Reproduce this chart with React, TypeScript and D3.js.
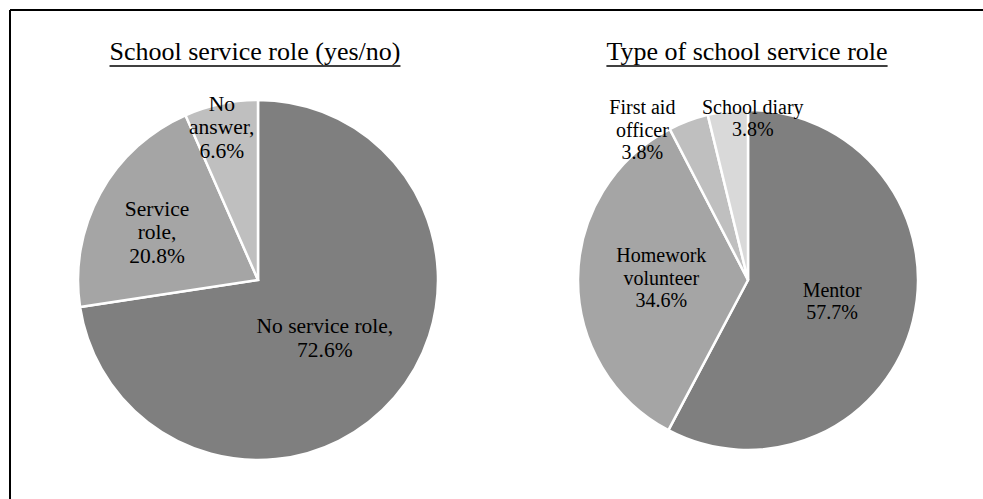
import React from "react";
import * as d3 from "d3";

// School service role (yes/no)
const roleCategories = ["No service role,", "Service role,", "No answer,"];
const roleValues = [72.6, 20.8, 6.6];

// Type of school service role
const typeCategories = ["Mentor", "Homework volunteer", "First aid officer", "School diary"];
const typeValues = [57.7, 34.6, 3.8, 3.8];

const W = 983;
const H = 499;
const FONT = "'Liberation Serif', 'Times New Roman', serif";

type LabelPlace = { k: number; dx: number; dy: number; lines: (name: string, v: string) => string[] };

type Panel = {
  title: string;
  titleX: number;
  cx: number;
  cy: number;
  r: number;
  fontSize: number;
  lineHeight: number;
  names: string[];
  values: number[];
  colors: string[];
  labels: LabelPlace[];
};

const pct = (v: number) => `${v.toFixed(1)}%`;

const panels: Panel[] = [
  {
    title: "School service role (yes/no)",
    titleX: 255,
    cx: 258,
    cy: 280,
    r: 180,
    fontSize: 21.5,
    lineHeight: 23.5,
    names: roleCategories,
    values: roleValues,
    colors: ["#7f7f7f", "#a5a5a5", "#bfbfbf"],
    labels: [
      { k: 0.49, dx: 0, dy: 0, lines: (n, v) => [n, v] },
      { k: 0.64, dx: 0, dy: 7, lines: (n, v) => ["Service", "role,", v] },
      { k: 0.87, dx: -4, dy: 0, lines: (n, v) => ["No", "answer,", v] },
    ],
  },
  {
    title: "Type of school service role",
    titleX: 747,
    cx: 748,
    cy: 280,
    r: 170,
    fontSize: 20,
    lineHeight: 22.5,
    names: typeCategories,
    values: typeValues,
    colors: ["#7f7f7f", "#a5a5a5", "#bfbfbf", "#d9d9d9"],
    labels: [
      { k: 0.51, dx: 0, dy: 0, lines: (n, v) => [n, v] },
      { k: 0.51, dx: 0, dy: -2, lines: (n, v) => ["Homework", "volunteer", v] },
      { k: 1.0, dx: -46, dy: 9, lines: (n, v) => ["First aid", "officer", v] },
      { k: 1.0, dx: 25, dy: 7, lines: (n, v) => [n, v] },
    ],
  },
];

function PiePanel({ p }: { p: Panel }) {
  const pie = d3
    .pie<number>()
    .sort(null)
    .startAngle(0)
    .endAngle(2 * Math.PI);
  const arcs = pie(p.values);
  const arc = d3.arc<d3.PieArcDatum<number>>().innerRadius(0).outerRadius(p.r);

  // measure title width for the underline
  const titleWidth = (() => {
    if (typeof document === "undefined") return 0;
    const c = document.createElement("canvas").getContext("2d");
    if (!c) return 0;
    c.font = `26px ${FONT}`;
    return c.measureText(p.title).width;
  })();

  return (
    <g>
      <text
        x={p.titleX}
        y={60}
        textAnchor="middle"
        fontFamily={FONT}
        fontSize={26}
        fill="#000"
      >
        {p.title}
      </text>
      <line
        x1={p.titleX - titleWidth / 2}
        x2={p.titleX + titleWidth / 2}
        y1={66}
        y2={66}
        stroke="#000"
        strokeWidth={1.5}
      />
      <g transform={`translate(${p.cx},${p.cy})`}>
        {arcs.map((a, i) => (
          <path key={i} d={arc(a) || ""} fill={p.colors[i]} stroke="#fff" strokeWidth={2.5} strokeLinejoin="miter" />
        ))}
        {arcs.map((a, i) => {
          const L = p.labels[i];
          const mid = (a.startAngle + a.endAngle) / 2;
          const x = Math.sin(mid) * p.r * L.k + L.dx;
          const y = -Math.cos(mid) * p.r * L.k + L.dy;
          const lines = L.lines(p.names[i], pct(p.values[i]));
          const n = lines.length;
          return (
            <text
              key={`l${i}`}
              textAnchor="middle"
              fontFamily={FONT}
              fontSize={p.fontSize}
              fill="#000"
            >
              {lines.map((t, j) => (
                <tspan key={j} x={x} y={y + (j - (n - 1) / 2) * p.lineHeight + 0.35 * p.fontSize}>
                  {t}
                </tspan>
              ))}
            </text>
          );
        })}
      </g>
    </g>
  );
}

export default function App() {
  return (
    <svg
      width={W}
      height={H}
      viewBox={`0 0 ${W} ${H}`}
      style={{ position: "fixed", left: 0, top: 0, background: "#fff" }}
    >
      <rect x={0} y={0} width={W} height={H} fill="#fff" />
      <line x1={10} y1={10} x2={W} y2={10} stroke="#000" strokeWidth={2} />
      <line x1={10} y1={10} x2={10} y2={H} stroke="#000" strokeWidth={2} />
      {panels.map((p, i) => (
        <PiePanel key={i} p={p} />
      ))}
    </svg>
  );
}
